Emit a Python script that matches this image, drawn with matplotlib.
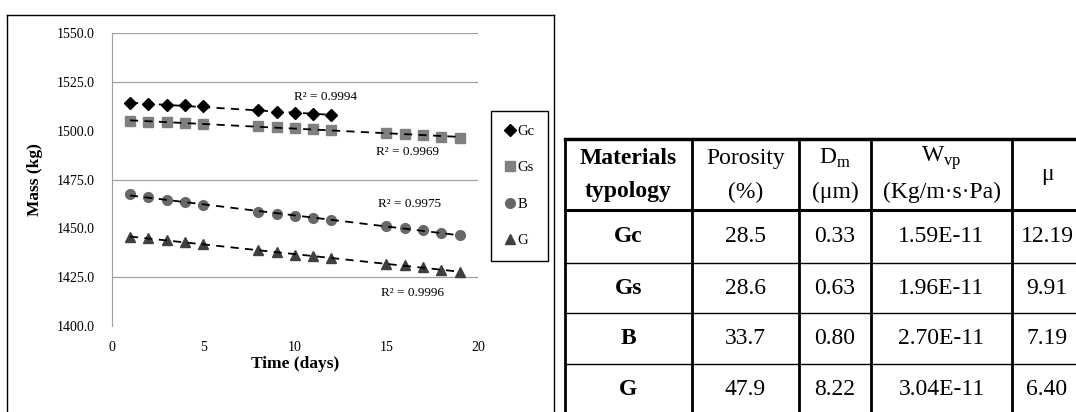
import numpy as np
import matplotlib
matplotlib.use('Agg')
import matplotlib.pyplot as plt
from matplotlib.lines import Line2D

plt.rcParams['font.family'] = ['Liberation Serif', 'DejaVu Serif']
plt.rcParams['mathtext.fontset'] = 'custom'
plt.rcParams['mathtext.rm'] = 'Liberation Serif'

# ---- chart data ----
days_gc = [1, 2, 3, 4, 5, 8, 9, 10, 11, 12]
days = [1, 2, 3, 4, 5, 8, 9, 10, 11, 12, 15, 16, 17, 18, 19]
mass_gc = [1514.1, 1513.7, 1513.3, 1513.1, 1512.7, 1510.6, 1509.8, 1509.0, 1508.8, 1508.2]
mass_gs = [1505.0, 1504.8, 1504.3, 1503.9, 1503.6, 1502.4, 1502.0, 1501.3, 1501.0, 1500.4,
           1499.0, 1498.2, 1497.9, 1496.9, 1496.6]
mass_b = [1467.5, 1466.1, 1464.5, 1463.4, 1462.2, 1458.4, 1457.6, 1456.3, 1455.4, 1454.3,
          1451.1, 1450.2, 1449.0, 1447.8, 1446.4]
mass_g = [1445.6, 1444.9, 1443.9, 1443.0, 1442.2, 1438.7, 1437.9, 1436.4, 1435.7, 1434.6,
          1431.9, 1431.1, 1430.2, 1428.9, 1427.5]
r2_text = ['R² = 0.9994', 'R² = 0.9969', 'R² = 0.9975', 'R² = 0.9996']
r2_pos = [(11.7, 1517.5), (16.15, 1489.1), (16.25, 1462.4), (16.4, 1416.8)]
y_ticks = [1400, 1425, 1450, 1475, 1500, 1525, 1550]
x_ticks = [0, 5, 10, 15, 20]
grid_vals = [1425, 1475, 1525, 1550]

# ---- table data ----
materials = ['Gc', 'Gs', 'B', 'G']
porosity = ['28.5', '28.6', '33.7', '47.9']
d_m = ['0.33', '0.63', '0.80', '8.22']
w_vp = ['1.59E-11', '1.96E-11', '2.70E-11', '3.04E-11']
mu = ['12.19', '9.91', '7.19', '6.40']

W, H = 1076, 412
fig = plt.figure(figsize=(W / 100, H / 100), dpi=100)


def fx(x):
    return x / W


def fy(y):
    return 1 - y / H


ax = fig.add_axes([fx(111.7), fy(326), fx(478) - fx(111.7), fy(33.3) - fy(326)])

series = [
    ('Gc', days_gc, mass_gc, 'D', 'black', 6),
    ('Gs', days, mass_gs, 's', '#808080', 6.5),
    ('B', days, mass_b, 'o', '#686868', 7),
    ('G', days, mass_g, '^', '#404040', 7),
]
handles = []
for name, xs, ys, mk, col, ms in series:
    h, = ax.plot(xs, ys, ls='none', marker=mk, color=col, ms=ms, label=name, zorder=3)
    handles.append(h)
    # linear trendline, dashed, drawn over the markers
    k, b = np.polyfit(xs, ys, 1)
    xx = np.array([xs[0], xs[-1]])
    ax.plot(xx, k * xx + b, color='black', lw=1.3, dashes=(4.5, 3.5), zorder=4)

for txt, (tx, ty) in zip(r2_text, r2_pos):
    ax.text(tx, ty, txt, fontsize=9.5, ha='center', va='center')

for gv in grid_vals:
    ax.axhline(gv, color='#a0a0a0', lw=0.9, zorder=1)

ax.set_xlim(0, 20)
ax.set_ylim(1400, 1550)
ax.set_xticks(x_ticks)
ax.set_yticks(y_ticks)
ax.set_yticklabels(['%.1f' % v for v in y_ticks])
ax.tick_params(length=0, labelsize=10, pad=12)
ax.tick_params(axis='x', pad=11)
for s in ['top', 'right', 'bottom']:
    ax.spines[s].set_visible(False)
ax.spines['left'].set_color('#a0a0a0')
ax.set_xlabel('Time (days)', fontsize=12.5, fontweight='bold', labelpad=1)
ax.set_ylabel('Mass (kg)', fontsize=12.5, fontweight='bold', labelpad=10)

fig.legend(handles=handles, loc='center', bbox_to_anchor=(fx(519.5), fy(186)),
           fontsize=10.5, frameon=True, fancybox=False, edgecolor='black', framealpha=1,
           labelspacing=1.6, handlelength=0.7, handletextpad=0.2, borderpad=0.9,
           borderaxespad=0)


def hline(x0, x1, y, lw):
    fig.add_artist(Line2D([fx(x0), fx(x1)], [fy(y), fy(y)], color='black', lw=lw,
                          transform=fig.transFigure, solid_capstyle='projecting'))


def vline(x, y0, y1, lw):
    fig.add_artist(Line2D([fx(x), fx(x)], [fy(y0), fy(y1)], color='black', lw=lw,
                          transform=fig.transFigure, solid_capstyle='projecting'))


# outer border of chart
hline(7, 554, 14.5, 1.0)
vline(7, 14.5, 420, 1.0)
vline(554, 14.5, 420, 1.0)

# table grid
cols = [565, 692, 799, 871, 1012, 1082]
rows = [139, 210, 263, 313, 364, 415]
hline(cols[0], cols[-1], rows[0], 2.5)
hline(cols[0], cols[-1], rows[1], 2.2)
for r in rows[2:]:
    hline(cols[0], cols[-1], r, 1.0)
for c in cols:
    vline(c, rows[0], rows[-1], 2.0)

cx = [(cols[i] + cols[i + 1]) / 2 for i in range(5)]
fs = 17
top1, top2 = 158, 192
fig.text(fx(cx[0]), fy(top1), 'Materials', fontsize=fs, fontweight='bold', ha='center', va='center')
fig.text(fx(cx[0]), fy(top2), 'typology', fontsize=fs, fontweight='bold', ha='center', va='center')
fig.text(fx(cx[1]), fy(top1), 'Porosity', fontsize=fs, ha='center', va='center')
fig.text(fx(cx[1]), fy(top2), '(%)', fontsize=fs, ha='center', va='center')
fig.text(fx(cx[2]), fy(top1), r'D$_\mathrm{m}$', fontsize=fs, ha='center', va='center')
fig.text(fx(cx[2]), fy(top2), '(μm)', fontsize=fs, ha='center', va='center')
fig.text(fx(cx[3]), fy(top1), r'W$_\mathrm{vp}$', fontsize=fs, ha='center', va='center')
fig.text(fx(cx[3]), fy(top2), '(Kg/m·s·Pa)', fontsize=fs, ha='center', va='center')
fig.text(fx(cx[4]), fy((rows[0] + rows[1]) / 2), 'μ', fontsize=fs, ha='center', va='center')

for i in range(4):
    yc = (rows[i + 1] + rows[i + 2]) / 2
    fig.text(fx(cx[0]), fy(yc), materials[i], fontsize=fs, fontweight='bold', ha='center', va='center')
    fig.text(fx(cx[1]), fy(yc), porosity[i], fontsize=fs, ha='center', va='center')
    fig.text(fx(cx[2]), fy(yc), d_m[i], fontsize=fs, ha='center', va='center')
    fig.text(fx(cx[3]), fy(yc), w_vp[i], fontsize=fs, ha='center', va='center')
    fig.text(fx(cx[4]), fy(yc), mu[i], fontsize=fs, ha='center', va='center')

fig.savefig('out.png', dpi=100)
